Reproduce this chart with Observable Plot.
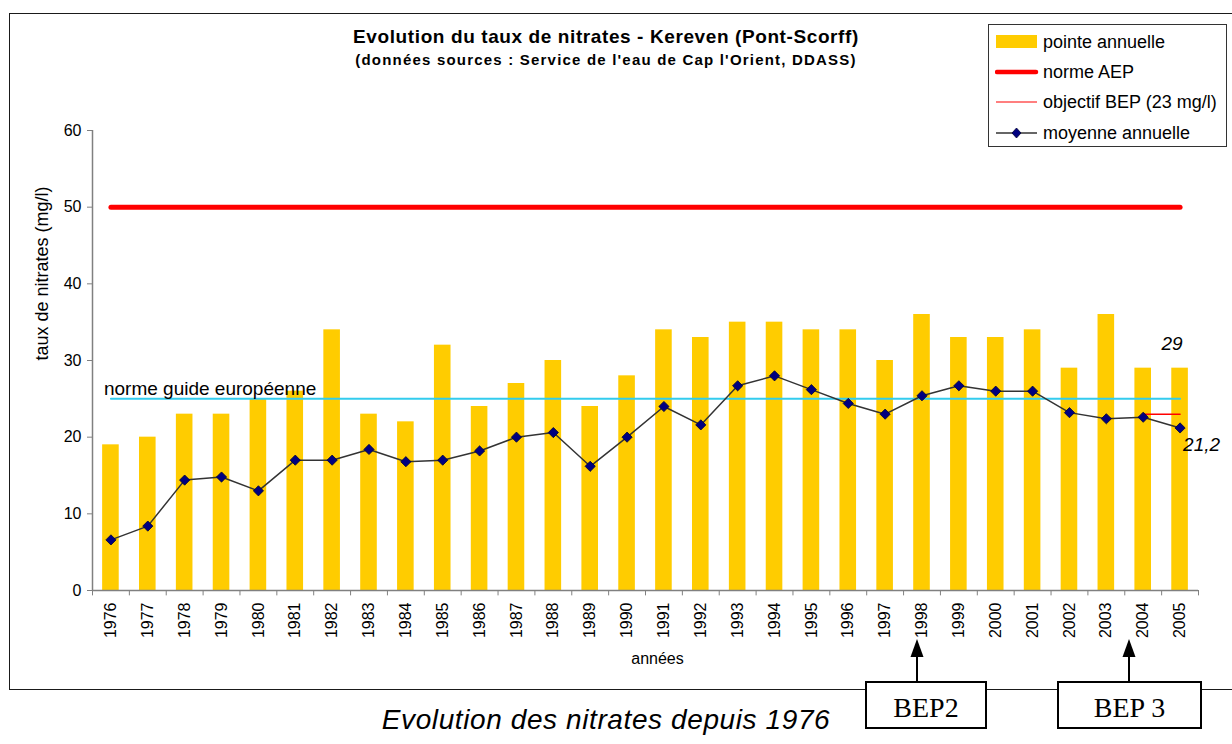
<!DOCTYPE html>
<html>
<head>
<meta charset="utf-8">
<script src="https://cdn.jsdelivr.net/npm/d3@7"></script>
<script src="https://cdn.jsdelivr.net/npm/@observablehq/plot@0.6"></script>
<style>
  html, body { margin: 0; padding: 0; background: #fff; }
  #wrap { position: relative; width: 1232px; height: 744px; overflow: hidden; font-family: "Liberation Sans", Arial, sans-serif; color: #000; }
  #border { position: absolute; left: 9px; top: 13px; width: 1260px; height: 677px; border: 1.5px solid #1a1a1a; box-sizing: border-box; }
  #chart { position: absolute; left: 0; top: 0; }
  .title { position: absolute; left: 0; width: 1212px; text-align: center; font-weight: bold; white-space: nowrap; }
  #legend { position: absolute; left: 988px; top: 24px; width: 239px; height: 123px; border: 1px solid #333; background: #fff; box-sizing: border-box; }
  .lrow { position: absolute; left: 0; height: 30px; width: 100%; }
  .lrow svg { position: absolute; left: 6px; top: 0; }
  .lrow span { position: absolute; left: 54px; top: 4px; font-size: 18px; line-height: 22px; white-space: nowrap; }
  .bep { position: absolute; top: 681px; height: 48px; border: 2px solid #000; background: #fff; box-sizing: border-box; }
  .bep .txt { position: absolute; left: 0; right: 0; top: 11px; text-align: center; font-family: "Liberation Serif", "Times New Roman", serif; font-size: 28px; line-height: 28px; }
  #caption { position: absolute; left: 0; width: 1212px; top: 706px; text-align: center; font-style: italic; font-size: 28px; line-height: 28px; letter-spacing: 0.6px; white-space: nowrap; }
  #arrows { position: absolute; left: 0; top: 0; pointer-events: none; }
</style>
</head>
<body>
<div id="wrap">
  <div id="border"></div>
  <div id="chart"></div>
  <div class="title" style="top:26px;font-size:19px;line-height:22px;letter-spacing:0.6px;">Evolution du taux de nitrates - Kereven (Pont-Scorff)</div>
  <div class="title" style="top:51px;font-size:15px;line-height:18px;letter-spacing:1.2px;">(données sources : Service de l'eau de Cap l'Orient, DDASS)</div>
  <div id="legend"></div>
  <svg id="arrows" width="1232" height="744"></svg>
  <div class="bep" style="left:865px;width:122px;"><div class="txt">BEP2</div></div>
  <div class="bep" style="left:1057px;width:145px;"><div class="txt">BEP 3</div></div>
  <div id="caption">Evolution des nitrates depuis 1976</div>
</div>
<script>
// ---- data ----
const years = ["1976","1977","1978","1979","1980","1981","1982","1983","1984","1985",
               "1986","1987","1988","1989","1990","1991","1992","1993","1994","1995",
               "1996","1997","1998","1999","2000","2001","2002","2003","2004","2005"];
const pointeAnnuelle = [19,20,23,23,25,26,34,23,22,32,24,27,30,24,28,34,33,35,35,34,34,30,36,33,33,34,29,36,29,29];
const moyenneAnnuelle = [6.6,8.4,14.4,14.8,13,17,17,18.4,16.8,17,18.2,20,20.6,16.2,20,24,21.6,26.7,28,26.2,24.4,23,25.4,26.7,26,26,23.2,22.4,22.6,21.2];
const normeAEP = 50;
const normeGuide = 25;
const objectifBEP = 23;
const objectifYears = ["2004","2005"];
const yTicks = [0,10,20,30,40,50,60];
const valueLabels = ["29","21,2"];
const valueLabelYears = ["2005","2005"];
const valueLabelValues = [29, 21.2];
const legendLabels = ["pointe annuelle","norme AEP","objectif BEP (23 mg/l)","moyenne annuelle"];

const data = years.map((y, i) => ({year: y, pointe: pointeAnnuelle[i], moyenne: moyenneAnnuelle[i]}));
const aepLine = [years[0], years[years.length - 1]].map(y => ({year: y, v: normeAEP}));
const guideLine = [years[0], years[years.length - 1]].map(y => ({year: y, v: normeGuide}));
const bepLine = objectifYears.map(y => ({year: y, v: objectifBEP}));
const labels = valueLabels.map((t, i) => ({text: t, year: valueLabelYears[i], v: valueLabelValues[i]}));

const W = 1232, H = 700, mL = 92, mR = 34, mT = 130, mB = 110;
const pInner = 0.55, pOuter = 0.275;
const step = (W - mL - mR) / (years.length - pInner + 2 * pOuter);
const half = step / 2;

const YEL = "#ffcc00", RED = "#ff0000", CYAN = "#33ccee", NAVY = "#000080", GRAY = "#808080";

const chart = Plot.plot({
  width: W, height: H,
  marginTop: mT, marginBottom: mB, marginLeft: mL, marginRight: mR,
  style: {background: "transparent", fontFamily: "Liberation Sans, Arial, sans-serif", color: "#000", overflow: "visible"},
  x: {domain: years, paddingInner: pInner, paddingOuter: pOuter, round: false, label: null},
  y: {domain: [0, 60], label: null},
  marks: [
    Plot.barY(data, {x: "year", y: "pointe", fill: YEL}),
    Plot.lineY(aepLine, {x: "year", y: "v", stroke: RED, strokeWidth: 5, strokeLinecap: "round"}),
    Plot.lineY(guideLine, {x: "year", y: "v", stroke: CYAN, strokeWidth: 2}),
    Plot.lineY(bepLine, {x: "year", y: "v", stroke: RED, strokeWidth: 1.5}),
    Plot.line(data, {x: "year", y: "moyenne", stroke: "#333", strokeWidth: 1.5}),
    Plot.dot(data, {x: "year", y: "moyenne", symbol: "diamond2", r: 4.6, fill: NAVY, stroke: "#000033", strokeWidth: 0.8}),
    Plot.text(guideLine.slice(0, 1), {x: "year", y: "v", text: () => "norme guide européenne", textAnchor: "start", dx: -7, dy: -10, fontSize: 19}),
    Plot.text(labels.slice(0, 1), {x: "year", y: "v", text: "text", dx: -8, dy: -24, fontSize: 19, fontStyle: "italic"}),
    Plot.text(labels.slice(1), {x: "year", y: "v", text: "text", textAnchor: "start", dx: 3, dy: 17, fontSize: 19, fontStyle: "italic"}),
    // axes
    Plot.ruleY([0], {stroke: GRAY, strokeWidth: 1.5}),
    Plot.ruleX([years[0]], {x: d => d, y1: 0, y2: 60, dx: -half, stroke: GRAY, strokeWidth: 1.5}),
    Plot.ruleX(years, {x: d => d, y1: 0, y2: -0.7, dx: -half, stroke: GRAY}),
    Plot.ruleX([years[years.length - 1]], {x: d => d, y1: 0, y2: -0.7, dx: half, stroke: GRAY}),
    Plot.axisY({ticks: yTicks, tickSize: 5, tickPadding: 6, fontSize: 16, stroke: GRAY, label: null}),
    Plot.axisX({tickSize: 0, tickPadding: 12, tickRotate: -90, fontSize: 16, label: null}),
    Plot.text(["taux de nitrates (mg/l)"], {frameAnchor: "left", rotate: -90, dx: -50, fontSize: 18}),
    Plot.text(["années"], {frameAnchor: "bottom", dy: 73, dx: 12, fontSize: 16})
  ]
});
document.getElementById("chart").appendChild(chart);

// ---- legend ----
const legend = document.getElementById("legend");
const rowTops = [2, 32, 62, 93];
const swatches = [
  `<rect x="1" y="8" width="41" height="13" fill="${YEL}"/>`,
  `<line x1="2" y1="15" x2="41" y2="15" stroke="${RED}" stroke-width="4.5" stroke-linecap="round"/>`,
  `<line x1="1" y1="15" x2="42" y2="15" stroke="${RED}" stroke-width="1.2"/>`,
  `<line x1="1" y1="15" x2="42" y2="15" stroke="#333" stroke-width="1.5"/><path d="M21.5 10 L26 15 L21.5 20 L17 15 Z" fill="${NAVY}" stroke="#000033" stroke-width="0.8"/>`
];
legendLabels.forEach((lab, i) => {
  const row = document.createElement("div");
  row.className = "lrow";
  row.style.top = rowTops[i] + "px";
  row.innerHTML = `<svg width="44" height="30">${swatches[i]}</svg><span>${lab}</span>`;
  legend.appendChild(row);
});

// ---- annotation arrows (BEP2 / BEP 3) ----
const arrows = d3.select("#arrows");
[{x: 917}, {x: 1129}].forEach(a => {
  arrows.append("line").attr("x1", a.x).attr("x2", a.x).attr("y1", 682).attr("y2", 655).attr("stroke", "#000").attr("stroke-width", 2);
  arrows.append("path").attr("d", `M${a.x} 639 L${a.x + 6.5} 657 L${a.x - 6.5} 657 Z`).attr("fill", "#000");
});
</script>
</body>
</html>
